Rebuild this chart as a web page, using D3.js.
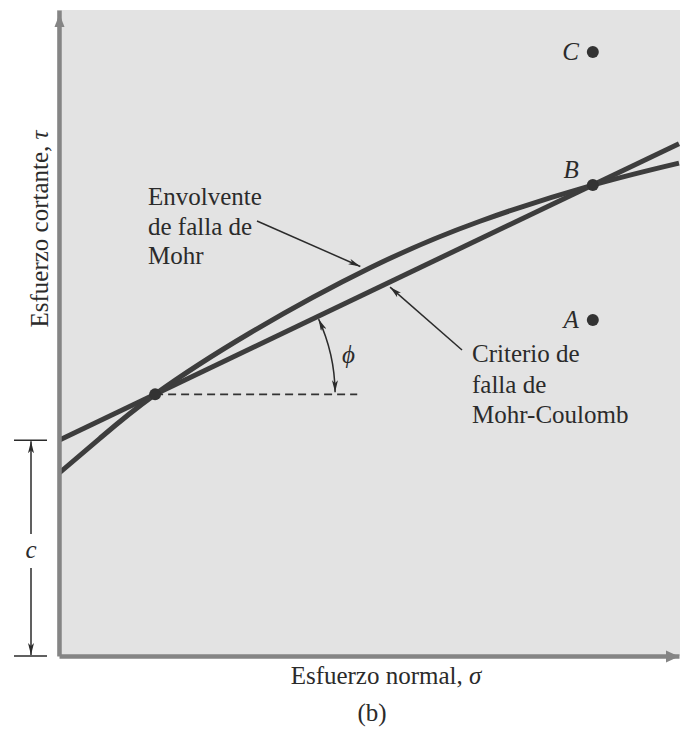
<!DOCTYPE html>
<head>
  <meta charset="utf-8">
  <script src="https://d3js.org/d3.v7.min.js"></script>
  <style>
    body { margin: 0; background: #fff; }
    text {
      font-family: "Liberation Serif", "Times New Roman", serif;
      font-size: 25px;
      fill: #2b2b2b;
    }
  </style>
</head>

<body>
  <script>
  // envolvente de falla de Mohr (curva)
  var envSigma = [0, 6.6, 15.5, 30.8, 50.2, 67.9, 86.1, 100];
  var envTau   = [28.3, 33.7, 40.5, 50.0, 60.1, 67.3, 72.9, 76.3];

  // criterio de falla de Mohr-Coulomb (recta)
  var mcSigma = [0, 100];
  var mcTau   = [33.4, 79.3];

  var cohesion = 33.4;
  var dashEndSigma = 48.1;

  // puntos marcados
  var pointNames = ["", "C", "B", "A"];
  var pointSigma = [15.5, 86.1, 86.1, 86.1];
  var pointTau   = [40.5, 93.5, 72.9, 52.0];

  var envLabel = ["Envolvente", "de falla de", "Mohr"];
  var mcLabel = ["Criterio de", "falla de", "Mohr-Coulomb"];

  var width = 680, height = 735;

  var svg = d3.select("body").append("svg")
      .attr("width", width)
      .attr("height", height);

  var x = d3.scaleLinear().domain([0, 100]).range([59, 679]);
  var y = d3.scaleLinear().domain([0, 100]).range([656, 10]);

  var defs = svg.append("defs");
  defs.append("clipPath").attr("id", "panel")
    .append("rect")
      .attr("x", x(0))
      .attr("y", y(100))
      .attr("width", width - x(0))
      .attr("height", y(0) - y(100));

  defs.append("marker")
      .attr("id", "tip")
      .attr("viewBox", "0 -3 12 6")
      .attr("refX", 12)
      .attr("refY", 0)
      .attr("markerUnits", "userSpaceOnUse")
      .attr("markerWidth", 12)
      .attr("markerHeight", 6)
      .attr("orient", "auto-start-reverse")
    .append("path")
      .attr("d", "M0,-3L12,0L0,3L3,0Z")
      .attr("fill", "#2b2b2b");

  // fondo gris
  svg.append("rect")
      .attr("x", x(0) - 2)
      .attr("y", y(100))
      .attr("width", width - x(0) + 2)
      .attr("height", y(0) - y(100))
      .attr("fill", "#e3e3e3");

  var plot = svg.append("g").attr("clip-path", "url(#panel)");

  var envData = envSigma.map(function(s, i) { return [s, envTau[i]]; });
  var mcData = mcSigma.map(function(s, i) { return [s, mcTau[i]]; });

  var line = d3.line()
      .x(function(d) { return x(d[0]); })
      .y(function(d) { return y(d[1]); });

  plot.append("path")
      .datum(mcData)
      .attr("fill", "none")
      .attr("stroke", "#3d3d3d")
      .attr("stroke-width", 5)
      .attr("d", line);

  plot.append("path")
      .datum(envData)
      .attr("fill", "none")
      .attr("stroke", "#3d3d3d")
      .attr("stroke-width", 5)
      .attr("d", line.curve(d3.curveNatural));

  // linea horizontal punteada
  svg.append("line")
      .attr("x1", x(pointSigma[0]))
      .attr("x2", x(dashEndSigma))
      .attr("y1", y(pointTau[0]))
      .attr("y2", y(pointTau[0]))
      .attr("stroke", "#333")
      .attr("stroke-width", 1.8)
      .attr("stroke-dasharray", "8,5");

  // angulo phi
  var cx = x(pointSigma[0]), cy = y(pointTau[0]);
  var ang = Math.atan2(y(mcTau[1]) - y(mcTau[0]), x(mcSigma[1]) - x(mcSigma[0]));
  var arc = d3.path();
  arc.arc(cx, cy, 180, ang + 0.015, -0.012);
  svg.append("path")
      .attr("d", arc.toString())
      .attr("fill", "none")
      .attr("stroke", "#2b2b2b")
      .attr("stroke-width", 1.5)
      .attr("marker-start", "url(#tip)")
      .attr("marker-end", "url(#tip)");

  svg.append("text")
      .attr("x", 342)
      .attr("y", 363)
      .attr("font-style", "italic")
      .attr("font-size", 23)
      .text("\u03d5");

  // puntos
  svg.selectAll(".pt")
    .data(pointNames)
    .enter().append("circle")
      .attr("class", "pt")
      .attr("cx", function(d, i) { return x(pointSigma[i]); })
      .attr("cy", function(d, i) { return y(pointTau[i]); })
      .attr("r", 6)
      .attr("fill", "#333");

  svg.selectAll(".ptlabel")
    .data(pointNames.filter(function(d) { return d; }))
    .enter().append("text")
      .attr("class", "ptlabel")
      .attr("x", function(d) { return x(pointSigma[pointNames.indexOf(d)]) - 14; })
      .attr("y", function(d) {
        var i = pointNames.indexOf(d);
        return y(pointTau[i]) + (d === "B" ? -7 : 8);
      })
      .attr("text-anchor", "end")
      .attr("font-style", "italic")
      .attr("font-size", 23)
      .text(function(d) { return d; });

  // ejes
  svg.append("g")
      .attr("transform", "translate(0," + y(0) + ")")
      .call(d3.axisBottom(x).ticks(0).tickSizeOuter(0));
  svg.append("g")
      .attr("transform", "translate(" + x(0) + ",0)")
      .call(d3.axisLeft(y).ticks(0).tickSizeOuter(0));
  svg.selectAll(".domain")
      .attr("stroke", "#858585")
      .attr("stroke-width", 4.5);

  svg.append("path")
      .attr("d", "M" + (x(0) + 0.5) + "," + (y(100) + 4) + "l-5,13h10z")
      .attr("fill", "#858585");
  svg.append("path")
      .attr("d", "M" + (width - 1) + "," + (y(0) + 0.5) + "l-13,-6v12z")
      .attr("fill", "#858585");

  // cota c
  var cx0 = 31;
  [cohesion, 0].forEach(function(v) {
    svg.append("line")
        .attr("x1", 14).attr("x2", 47)
        .attr("y1", y(v)).attr("y2", y(v))
        .attr("stroke", "#2b2b2b")
        .attr("stroke-width", 1.5);
  });
  svg.append("line")
      .attr("x1", cx0).attr("x2", cx0)
      .attr("y1", 534).attr("y2", y(cohesion) + 1)
      .attr("stroke", "#2b2b2b")
      .attr("stroke-width", 1.5)
      .attr("marker-end", "url(#tip)");
  svg.append("line")
      .attr("x1", cx0).attr("x2", cx0)
      .attr("y1", 568).attr("y2", y(0) - 1)
      .attr("stroke", "#2b2b2b")
      .attr("stroke-width", 1.5)
      .attr("marker-end", "url(#tip)");
  svg.append("text")
      .attr("x", cx0)
      .attr("y", 558)
      .attr("text-anchor", "middle")
      .attr("font-style", "italic")
      .text("c");

  // rotulos de las curvas
  svg.append("text")
      .selectAll("tspan")
      .data(envLabel)
      .enter().append("tspan")
        .attr("x", 148)
        .attr("y", function(d, i) { return 205 + i * 29.5; })
        .text(function(d) { return d; });

  svg.append("text")
      .selectAll("tspan")
      .data(mcLabel)
      .enter().append("tspan")
        .attr("x", 472)
        .attr("y", function(d, i) { return 362 + i * 30.5; })
        .text(function(d) { return d; });

  svg.append("line")
      .attr("x1", 257).attr("y1", 221)
      .attr("x2", x(48.6)).attr("y2", y(60.3))
      .attr("stroke", "#2b2b2b")
      .attr("stroke-width", 1.5)
      .attr("marker-end", "url(#tip)");

  svg.append("line")
      .attr("x1", 462).attr("y1", 350)
      .attr("x2", x(53.4)).attr("y2", y(57.1))
      .attr("stroke", "#2b2b2b")
      .attr("stroke-width", 1.5)
      .attr("marker-end", "url(#tip)");

  // titulos de los ejes
  var xt = svg.append("text")
      .attr("x", 386)
      .attr("y", 684)
      .attr("text-anchor", "middle");
  xt.append("tspan").text("Esfuerzo normal, ");
  xt.append("tspan").attr("font-style", "italic").text("\u03c3");

  var yt = svg.append("text")
      .attr("transform", "translate(48,229)rotate(-90)")
      .attr("text-anchor", "middle");
  yt.append("tspan").text("Esfuerzo cortante, ");
  yt.append("tspan").attr("font-style", "italic").text("\u03c4");

  svg.append("text")
      .attr("x", 372)
      .attr("y", 721)
      .attr("text-anchor", "middle")
      .text("(b)");
  </script>
</body>
